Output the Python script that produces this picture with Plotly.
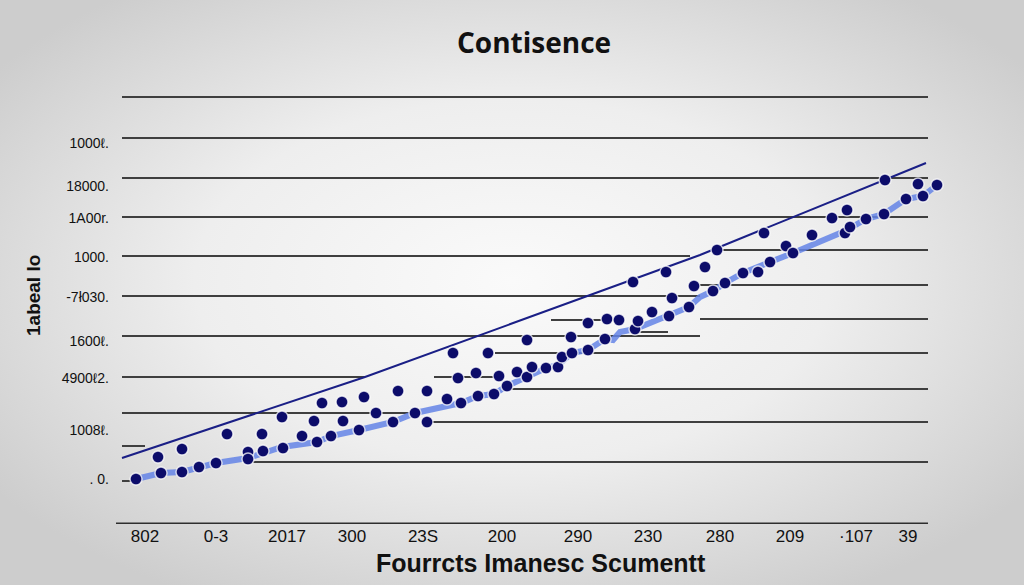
import base64
import plotly.graph_objects as go

# ---------------- data ----------------
dot_x = [3.6, 5.8, 6.1, 8.2, 8.2, 9.9, 11.6, 12.7, 14.8, 14.8, 16.2, 16.3, 18.2, 18.3,
         20.2, 21.4, 21.7, 22.2, 23.1, 24.2, 24.3, 25.9, 26.4, 27.6, 29.3, 29.8, 31.5,
         32.7, 32.7, 34.7, 35.8, 35.3, 36.1, 37.6, 37.8, 38.8, 39.9, 39.4, 40.7, 41.7,
         42.7, 42.7, 43.2, 44.6, 45.8, 46.2, 47.2, 47.1, 48.8, 48.8, 50.5, 50.7, 51.9,
         53.3, 53.5, 53.8, 55.2, 56.6, 56.9, 57.2, 58.9, 59.4, 60.5, 61.3, 61.7, 62.5,
         64.3, 65.8, 66.4, 67.0, 68.6, 69.3, 71.2, 73.2, 74.5, 75.0, 74.7, 76.6, 78.4,
         78.5, 80.6, 81.8, 82.3, 83.7]
dot_y = [225, 335, 255, 375, 260, 285, 305, 450, 360, 325, 450, 365, 535, 380,
         440, 515, 410, 605, 440, 610, 515, 470, 635, 555, 510, 665, 555,
         665, 510, 625, 730, 855, 605, 755, 640, 855, 740, 650, 690, 760,
         735, 920, 785, 780, 785, 835, 855, 935, 870, 1005, 925, 1025, 1020,
         1210, 975, 1015, 1060, 1260, 1040, 1130, 1085, 1190, 1285, 1165, 1370, 1205,
         1255, 1260, 1455, 1310, 1390, 1355, 1445, 1530, 1455, 1485, 1570, 1525, 1550,
         1720, 1625, 1700, 1640, 1695]

trend_x = [3.6, 6.1, 8.2, 9.9, 11.6, 14.8, 18.2, 21.7, 23.1, 25.9, 29.3, 31.5, 34.7,
           36.1, 37.8, 39.4, 40.7, 42.7, 44.6, 45.8, 47.2, 48.8, 50.5, 51.3, 52.0,
           53.5, 56.9, 58.9, 60.0, 61.3, 62.5, 64.3, 67.0, 69.3, 74.5, 76.6, 78.4,
           80.6, 82.3, 83.7]
trend_y = [225, 255, 260, 285, 305, 330, 385, 410, 440, 470, 510, 555, 595,
           605, 640, 650, 690, 735, 780, 795, 855, 870, 925, 920, 960,
           975, 1040, 1085, 1135, 1165, 1205, 1255, 1310, 1355, 1465, 1525, 1550,
           1625, 1640, 1695]

upper_x = [2.2, 26.5, 60.0, 82.6]
upper_y = [330, 735, 1345, 1805]

x_tickvals = [4.5, 11.6, 18.7, 25.2, 32.3, 40.2, 47.8, 54.8, 62.0, 69.0, 75.6, 80.8]
x_ticktext = ["802", "0-3", "2017", "300", "23S", "200", "290", "230", "280", "209", "\u00b7107", "39"]

y_tickvals = [1905, 1690, 1530, 1335, 1135, 915, 730, 470, 225]
y_ticktext = ["1000\u2113.", "18000.", "1A00r.", "1000.", "-7\u0142030.", "1600\u2113.",
              "4900\u21132.", "1008\u2113.", ". 0."]

# decorative grid segments (x0, x1, y)
grid_segments = [(2.2, 82.8, 2135), (2.2, 82.8, 1930), (2.2, 82.8, 1730), (2.2, 82.8, 1535),
                 (2.2, 59.0, 1340), (61.3, 82.8, 1370),
                 (2.2, 60.0, 1140), (60.0, 82.8, 1195),
                 (2.2, 60.0, 940), (60.0, 82.8, 1025),
                 (2.2, 26.5, 735), (33.4, 39.7, 735), (39.5, 82.8, 855),
                 (45.1, 52.0, 1020), (53.3, 56.8, 960),
                 (2.2, 31.0, 555), (40.7, 82.8, 675),
                 (32.5, 82.8, 510),
                 (2.2, 4.5, 390),
                 (15.3, 82.8, 310),
                 (2.2, 3.6, 215)]

# ---------------- figure ----------------
W, H = 1024, 585
ML, MR, MT, MB = 110, 74, 90, 61
PW, PH = W - ML - MR, H - MT - MB

fig = go.Figure()

fig.add_trace(go.Scatter(x=trend_x, y=trend_y, mode="lines",
                         line=dict(color="rgba(100,132,230,0.85)", width=6, shape="linear"),
                         hoverinfo="skip", showlegend=False))
fig.add_trace(go.Scatter(x=upper_x, y=upper_y, mode="lines",
                         line=dict(color="#1a1f86", width=2),
                         hoverinfo="skip", showlegend=False))
fig.add_trace(go.Scatter(x=dot_x, y=dot_y, mode="markers",
                         marker=dict(color="#0c0c6a", size=12,
                                     line=dict(color="rgba(255,255,255,0.75)", width=1.5)),
                         showlegend=False))

shapes = []
for x0, x1, yv in grid_segments:
    shapes.append(dict(type="line", xref="x", yref="y", x0=x0, x1=x1, y0=yv, y1=yv,
                       line=dict(color="#3f3f3f", width=2), layer="below"))
shapes.append(dict(type="line", xref="x", yref="y", x0=1.6, x1=82.8, y0=0, y1=0,
                   line=dict(color="#2e2e2e", width=2.8), layer="below"))

svg = ('<svg xmlns="http://www.w3.org/2000/svg" width="1024" height="585">'
       '<defs><radialGradient id="g" cx="50%" cy="48%" r="62%">'
       '<stop offset="0" stop-color="#fafafa"/><stop offset="0.5" stop-color="#eeeeee"/>'
       '<stop offset="1" stop-color="#cdcdcd"/></radialGradient></defs>'
       '<rect width="1024" height="585" fill="url(#g)"/></svg>')
bg_src = "data:image/svg+xml;base64," + base64.b64encode(svg.encode()).decode()

fig.update_layout(
    width=W, height=H,
    margin=dict(l=ML, r=MR, t=MT, b=MB, pad=0),
    paper_bgcolor="#e6e6e6", plot_bgcolor="rgba(0,0,0,0)",
    shapes=shapes,
    images=[dict(source=bg_src, xref="paper", yref="paper",
                 x=-ML / PW, y=1 + MT / PH, sizex=W / PW, sizey=H / PH,
                 xanchor="left", yanchor="top", sizing="stretch", layer="below")],
    xaxis=dict(range=[1.0, 85.0], showgrid=False, zeroline=False, showline=False,
               tickmode="array", tickvals=x_tickvals, ticktext=x_ticktext, ticks="",
               tickfont=dict(family="Liberation Sans Narrow, Liberation Sans, Arial", size=17, color="#111111")),
    yaxis=dict(range=[0, 2170], showgrid=False, zeroline=False, showline=False,
               tickmode="array", tickvals=y_tickvals, ticktext=y_ticktext, ticks="",
               tickfont=dict(family="Liberation Sans, Arial", size=14, color="#111111")),
    annotations=[
        dict(text="<b>Contisence</b>", xref="paper", yref="paper",
             x=(534 - ML) / PW, y=1 + (MT - 42) / PH, showarrow=False,
             xanchor="center", yanchor="middle",
             font=dict(family="Open Sans, Arial", size=28, color="#111111")),
        dict(text="<b>Fourrcts Imanesc Scumentt</b>", xref="paper", yref="paper",
             x=(541 - ML) / PW, y=-(563 - (MT + PH)) / PH, showarrow=False,
             xanchor="center", yanchor="middle",
             font=dict(family="Liberation Sans Narrow, Liberation Sans, Arial", size=25, color="#111111")),
        dict(text="<b>1abeal lo</b>", xref="paper", yref="paper",
             x=-(ML - 33) / PW, y=1 - (296 - MT) / PH, showarrow=False, textangle=-90,
             xanchor="center", yanchor="middle",
             font=dict(family="Liberation Sans, Arial", size=19, color="#111111")),
    ],
)

fig.write_html("out.html", config={"displayModeBar": False})
